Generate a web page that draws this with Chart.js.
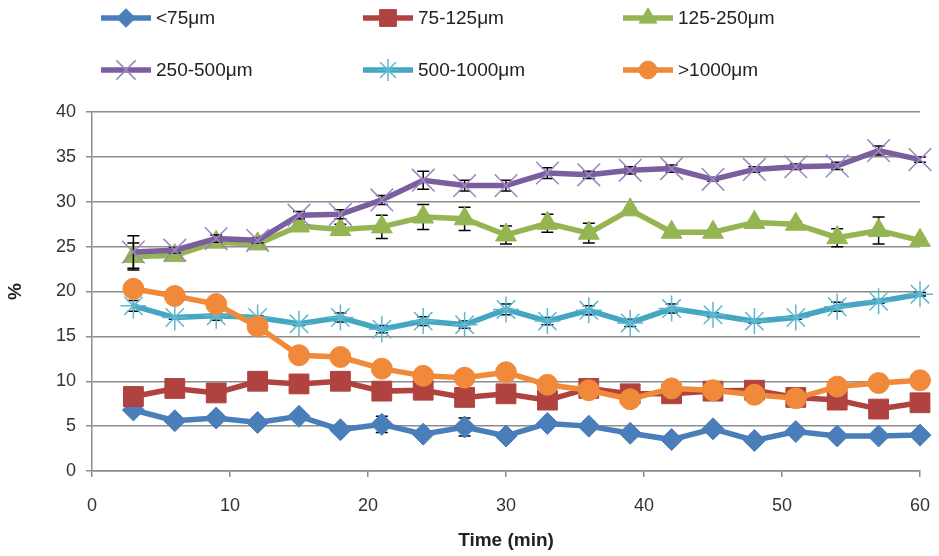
<!DOCTYPE html>
<html>
<head>
<meta charset="utf-8">
<script src="https://cdn.jsdelivr.net/npm/chart.js@4.4.1/dist/chart.umd.min.js"></script>
<style>
  html, body { margin: 0; padding: 0; background: #fff; }
  #wrap { position: relative; width: 939px; height: 556px; }
  #legend { position: absolute; left: 0; top: 0; width: 939px; height: 95px; font-family: "Liberation Sans Narrow", "Liberation Sans", Arial, sans-serif; font-size: 19px; color: #222; }
  .item { position: absolute; height: 26px; display: flex; align-items: center; }
  .item canvas { display: block; margin-right: 4px; }
</style>
</head>
<body>
<div id="wrap">
  <canvas id="c" width="939" height="556"></canvas>
  <div id="legend"></div>
</div>
<script>
// ---- data ----
const times = [3, 6, 9, 12, 15, 18, 21, 24, 27, 30, 33, 36, 39, 42, 45, 48, 51, 54, 57, 60];
const seriesNames = ["<75μm", "75-125μm", "125-250μm", "250-500μm", "500-1000μm", ">1000μm"];

const lt75      = [6.8, 5.6, 5.9, 5.4, 6.1, 4.6, 5.2, 4.1, 4.9, 3.9, 5.3, 5.0, 4.2, 3.5, 4.7, 3.4, 4.4, 3.9, 3.9, 4.0];
const r75_125   = [8.3, 9.2, 8.7, 10.0, 9.7, 10.0, 8.9, 9.0, 8.2, 8.6, 7.9, 9.2, 8.6, 8.6, 8.9, 9.0, 8.2, 7.9, 6.9, 7.6];
const r125_250  = [23.9, 24.0, 25.5, 25.3, 27.3, 26.9, 27.2, 28.3, 28.1, 26.3, 27.6, 26.5, 29.1, 26.6, 26.6, 27.7, 27.5, 26.0, 26.8, 25.7];
const r250_500  = [24.4, 24.6, 25.9, 25.7, 28.5, 28.6, 30.2, 32.4, 31.8, 31.8, 33.2, 33.0, 33.5, 33.7, 32.5, 33.6, 33.9, 34.0, 35.7, 34.7];
const r500_1000 = [18.4, 17.1, 17.3, 17.1, 16.4, 17.1, 15.8, 16.7, 16.3, 18.0, 16.7, 17.9, 16.5, 18.1, 17.4, 16.7, 17.1, 18.3, 18.9, 19.7];
const gt1000    = [20.3, 19.5, 18.6, 16.1, 12.9, 12.7, 11.4, 10.6, 10.4, 11.0, 9.6, 9.0, 8.0, 9.2, 9.0, 8.5, 8.1, 9.4, 9.8, 10.1];

// error bar half-lengths (estimated)
const lt75Err      = [0.3, 0.2, 0.4, 0.2, 0.5, 0.2, 0.9, 0.2, 1.0, 0.2, 0.4, 0.5, 0.5, 0.2, 0.2, 0.2, 0.2, 0.2, 0.4, 0.2];
const r75_125Err   = [0.2, 0.2, 0.2, 0.2, 0.2, 0.2, 0.2, 0.2, 0.2, 0.2, 0.2, 0.2, 0.2, 0.2, 0.2, 0.2, 0.2, 0.2, 0.2, 0.2];
const r125_250Err  = [1.5, 0.2, 0.3, 0.2, 0.3, 0.6, 1.3, 1.4, 1.3, 1.0, 1.0, 1.1, 0.2, 0.2, 0.2, 0.2, 0.3, 1.0, 1.5, 0.2];
const r250_500Err  = [1.8, 0.3, 0.4, 0.3, 0.4, 0.5, 0.5, 1.0, 0.6, 0.6, 0.6, 0.4, 0.4, 0.4, 0.2, 0.3, 0.3, 0.4, 0.5, 0.3];
const r500_1000Err = [0.6, 0.2, 0.5, 0.2, 0.2, 0.5, 0.4, 0.5, 0.4, 0.6, 0.4, 0.5, 0.4, 0.5, 0.2, 0.2, 0.2, 0.5, 0.2, 0.2];
const gt1000Err    = [0.2, 0.2, 0.2, 0.2, 0.2, 0.2, 0.2, 0.2, 0.2, 0.2, 0.2, 0.2, 0.2, 0.2, 0.2, 0.2, 0.2, 0.2, 0.2, 0.2];

const xTicks = [0, 10, 20, 30, 40, 50, 60];
const yTicks = [0, 5, 10, 15, 20, 25, 30, 35, 40];
const xTitle = "Time (min)";
const yTitle = "%";

// ---- styling ----
const FONT = '"Liberation Sans Narrow", "Liberation Sans", Arial, sans-serif';
const styles = [
  { color: "#4A7EBB", pc: "#4A7EBB", ps: "rectRot", r: 11, pbw: 1 },
  { color: "#B0433F", pc: "#B0433F", ps: "rect",    r: 14, pbw: 1 },
  { color: "#94B552", pc: "#94B552", ps: "triangle",r: 12, pbw: 1 },
  { color: "#7B5E9E", pc: "#9A86C0", ps: "crossRot",r: 16, pbw: 1.5 },
  { color: "#44A6C0", pc: "#5DB8D0", ps: "star",    r: 13, pbw: 1.5 },
  { color: "#F08A3A", pc: "#F08A3A", ps: "circle",  r: 10.5, pbw: 1 }
];
const values = [lt75, r75_125, r125_250, r250_500, r500_1000, gt1000];
const errors = [lt75Err, r75_125Err, r125_250Err, r250_500Err, r500_1000Err, gt1000Err];

const datasets = values.map((vals, i) => ({
  label: seriesNames[i],
  data: times.map((t, j) => ({ x: t, y: vals[j] })),
  err: errors[i],
  borderColor: styles[i].color,
  backgroundColor: styles[i].pc,
  pointBackgroundColor: styles[i].pc,
  pointBorderColor: styles[i].pc,
  pointBorderWidth: styles[i].pbw,
  pointStyle: styles[i].ps,
  pointRadius: styles[i].r,
  borderWidth: 5.5,
  tension: 0,
  clip: false,
  order: values.length - i
}));

const errorBars = {
  id: "errorBars",
  beforeDatasetDraw(chart, args) {
    const ds = chart.data.datasets[args.index];
    const meta = chart.getDatasetMeta(args.index);
    const ys = chart.scales.y;
    const ctx = chart.ctx;
    ctx.save();
    ctx.strokeStyle = "#000";
    ctx.lineWidth = 1.5;
    meta.data.forEach((pt, j) => {
      const v = ds.data[j].y, e = ds.err[j];
      const top = ys.getPixelForValue(v + e), bot = ys.getPixelForValue(v - e);
      const x = pt.x;
      ctx.beginPath();
      ctx.moveTo(x, top); ctx.lineTo(x, bot);
      ctx.moveTo(x - 6, top); ctx.lineTo(x + 6, top);
      ctx.moveTo(x - 6, bot); ctx.lineTo(x + 6, bot);
      ctx.stroke();
    });
    ctx.restore();
  }
};

const chart = new Chart(document.getElementById("c"), {
  type: "line",
  data: { datasets },
  plugins: [errorBars],
  options: {
    responsive: false,
    animation: false,
    devicePixelRatio: 1,
    layout: { autoPadding: false, padding: { top: 112, right: 19, left: 0, bottom: 0 } },
    plugins: { legend: { display: false }, tooltip: { enabled: false } },
    scales: {
      x: {
        type: "linear", min: 0, max: 60,
        afterBuildTicks: s => { s.ticks = xTicks.map(v => ({ value: v })); },
        afterFit: s => { s.height = 85; s.paddingLeft = 0; s.paddingRight = 0; },
        grid: { drawOnChartArea: false, drawTicks: true, tickLength: 6, color: "#8c8c8c", lineWidth: 1.5 },
        border: { display: true, color: "#8c8c8c", width: 1.5 },
        ticks: { font: { family: FONT, size: 18 }, color: "#333", padding: 18, maxRotation: 0 },
        title: { display: true, text: xTitle, font: { family: FONT, size: 19, weight: "bold" }, color: "#222", padding: { top: 4, bottom: 4 } }
      },
      y: {
        min: 0, max: 40,
        afterBuildTicks: s => { s.ticks = yTicks.map(v => ({ value: v })); },
        afterFit: s => { s.width = 92; s.paddingTop = 0; s.paddingBottom = 0; },
        grid: { drawOnChartArea: true, drawTicks: true, tickLength: 6, color: "#8c8c8c", lineWidth: 1.5 },
        border: { display: true, color: "#8c8c8c", width: 1.5 },
        ticks: { font: { family: FONT, size: 18 }, color: "#333", padding: 10 },
        title: { display: true, text: yTitle, font: { family: FONT, size: 19, weight: "bold" }, color: "#222", padding: { top: 4, bottom: 4 } }
      }
    }
  }
});

// ---- HTML legend, 3 columns x 2 rows ----
const legendPos = [
  { x: 100, y: 18 }, { x: 362, y: 18 }, { x: 622, y: 18 },
  { x: 100, y: 70 }, { x: 362, y: 70 }, { x: 622, y: 70 }
];
const legend = document.getElementById("legend");
datasets.forEach((ds, i) => {
  const item = document.createElement("div");
  item.className = "item";
  item.style.left = legendPos[i].x + "px";
  item.style.top = (legendPos[i].y - 13) + "px";
  const cv = document.createElement("canvas");
  cv.width = 52; cv.height = 26;
  const c = cv.getContext("2d");
  c.strokeStyle = ds.borderColor; c.lineWidth = 5.5;
  c.beginPath(); c.moveTo(1, 13); c.lineTo(51, 13); c.stroke();
  c.fillStyle = ds.pointBackgroundColor; c.strokeStyle = ds.pointBorderColor;
  c.lineWidth = ds.pointBorderWidth;
  Chart.helpers.drawPoint(c, { pointStyle: ds.pointStyle, radius: ds.pointRadius * 0.85, borderWidth: ds.pointBorderWidth }, 26, 13);
  const span = document.createElement("span");
  span.textContent = ds.label;
  item.appendChild(cv); item.appendChild(span);
  legend.appendChild(item);
});
</script>
</body>
</html>
